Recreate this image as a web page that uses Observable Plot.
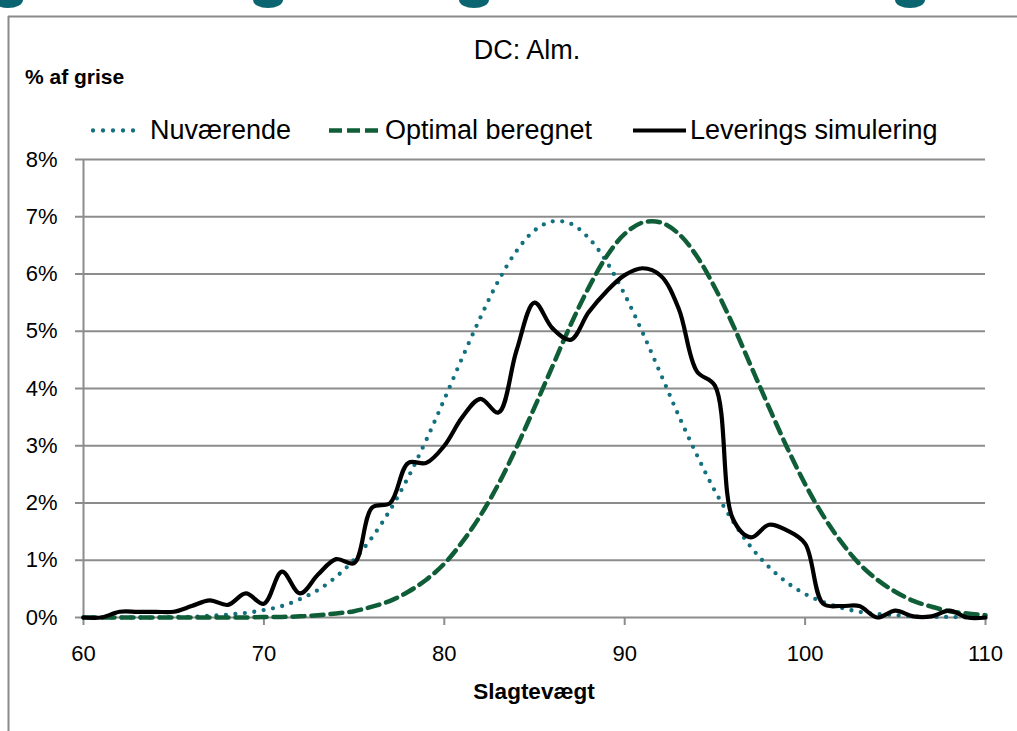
<!DOCTYPE html>
<html>
<head>
<meta charset="utf-8">
<script src="https://cdn.jsdelivr.net/npm/d3@7"></script>
<script src="https://cdn.jsdelivr.net/npm/@observablehq/plot@0.6"></script>
<style>
  html, body { margin: 0; padding: 0; background: #fff; }
  #chart { position: relative; width: 1017px; height: 731px; }
</style>
</head>
<body>
<div id="chart"></div>
<script>
// ---- data ----
const weights = d3.range(60, 111); // 60 .. 110 kg
const nuvaerende = [0,0,0,0,0,0.01,0.01,0.03,0.05,0.08,0.13,0.2,0.32,0.48,0.71,1.01,1.4,1.88,2.45,3.1,
  3.81,4.54,5.24,5.88,6.4,6.76,6.92,6.88,6.63,6.21,5.64,4.97,4.25,3.52,2.84,2.21,1.68,1.23,0.88,0.61,
  0.41,0.27,0.17,0.1,0.06,0.04,0.02,0.01,0.01,0,0];
const optimal = [0,0,0,0,0,0,0,0,0,0,0.01,0.01,0.02,0.04,0.07,0.11,0.19,0.29,0.45,0.66,
  0.94,1.32,1.78,2.33,2.97,3.67,4.39,5.11,5.76,6.31,6.7,6.9,6.9,6.7,6.31,5.76,5.11,4.39,3.67,2.97,
  2.33,1.78,1.32,0.94,0.66,0.45,0.29,0.19,0.11,0.07,0.04];
const simulering = [0,0,0.1,0.1,0.1,0.1,0.2,0.3,0.22,0.42,0.24,0.8,0.42,0.75,1.02,0.95,1.92,2.0,2.7,2.7,
  3.0,3.5,3.82,3.58,4.66,5.5,5.05,4.85,5.33,5.7,5.98,6.1,5.97,5.39,4.3,4.05,1.72,1.4,1.62,1.52,
  1.29,0.24,0.2,0.2,0,0.12,0.02,0.02,0.12,0,0];
const seriesNames = ["Nuværende", "Optimal beregnet", "Leverings simulering"];
const xTicks = [60, 70, 80, 90, 100, 110];
const yTicks = [0, 1, 2, 3, 4, 5, 6, 7, 8];
const title = "DC: Alm.";
const yLabel = "% af grise";
const xLabel = "Slagtevægt";

// ---- styles ----
const grid = "#8c8c8c";
const teal = "#13707f";
const green = "#0f5e38";
const font = "'Liberation Sans', Arial, sans-serif";

const rows = s => weights.map((w, i) => ({w, v: s[i]}));

const plot = Plot.plot({
  width: 1017,
  height: 731,
  marginLeft: 83,
  marginRight: 32,
  marginTop: 159,
  marginBottom: 114,
  style: {fontFamily: font, fontSize: "22px", color: "#000", background: "#fff", overflow: "visible"},
  x: {domain: [60, 110]},
  y: {domain: [0, 8]},
  marks: [
    Plot.ruleY(yTicks, {stroke: grid, strokeWidth: 2}),
    Plot.ruleX([60], {stroke: grid, strokeWidth: 2}),
    Plot.axisY({ticks: yTicks, tickFormat: d => d + "%", tickSize: 8, tickPadding: 18, stroke: grid, strokeWidth: 2, strokeOpacity: 1, fontSize: 22, label: null}),
    Plot.axisX({ticks: xTicks, tickSize: 8, tickPadding: 20, stroke: grid, strokeWidth: 2, strokeOpacity: 1, fontSize: 22, label: null}),
    Plot.line(rows(nuvaerende), {x: "w", y: "v", curve: "catmull-rom", stroke: teal, strokeWidth: 4.3, strokeDasharray: "0 9.5", strokeLinecap: "round"}),
    Plot.line(rows(optimal), {x: "w", y: "v", curve: "catmull-rom", stroke: green, strokeWidth: 4.5, strokeDasharray: "12 7"}),
    Plot.line(rows(simulering), {x: "w", y: "v", curve: "catmull-rom", stroke: "#000", strokeWidth: 4.2, strokeLinejoin: "round"})
  ]
});
document.getElementById("chart").appendChild(plot);

// ---- decorations, title, legend ----
const svg = d3.select(plot);
// teal heading descenders cut off at the top
[[8, 30], [268, 30], [474, 30], [910, 30]].forEach(([cx, w]) => {
  svg.append("ellipse").attr("cx", cx).attr("cy", 0).attr("rx", w / 2).attr("ry", 8).attr("fill", "#0a6571");
});
// frame lines
svg.append("line").attr("x1", 8).attr("x2", 1017).attr("y1", 16.5).attr("y2", 16.5).attr("stroke", "#8a8a8a").attr("stroke-width", 2);
svg.append("line").attr("x1", 8.5).attr("x2", 8.5).attr("y1", 16).attr("y2", 731).attr("stroke", "#8a8a8a").attr("stroke-width", 2);

svg.append("text").attr("x", 527).attr("y", 59).attr("text-anchor", "middle")
  .attr("font-size", 27).attr("fill", "#000").text(title);
svg.append("text").attr("x", 25).attr("y", 84).attr("text-anchor", "start")
  .attr("font-size", 21).attr("font-weight", "bold").attr("fill", "#000").text(yLabel);
svg.append("text").attr("x", 534).attr("y", 699).attr("text-anchor", "middle")
  .attr("font-size", 22.5).attr("font-weight", "bold").attr("fill", "#000").text(xLabel);

const legend = [
  {name: seriesNames[0], x1: 93, x2: 143, tx: 150, stroke: teal, w: 4.3, dash: "0 10", cap: "round"},
  {name: seriesNames[1], x1: 329, x2: 380, tx: 385, stroke: green, w: 4.5, dash: "13 5", cap: "butt"},
  {name: seriesNames[2], x1: 633, x2: 686, tx: 690, stroke: "#000", w: 4.2, dash: null, cap: "butt"}
];
legend.forEach(d => {
  const l = svg.append("line").attr("x1", d.x1).attr("x2", d.x2).attr("y1", 130.5).attr("y2", 130.5)
    .attr("stroke", d.stroke).attr("stroke-width", d.w).attr("stroke-linecap", d.cap);
  if (d.dash) l.attr("stroke-dasharray", d.dash);
  svg.append("text").attr("x", d.tx).attr("y", 139).attr("text-anchor", "start")
    .attr("font-size", 27).attr("fill", "#000").text(d.name);
});
</script>
</body>
</html>
